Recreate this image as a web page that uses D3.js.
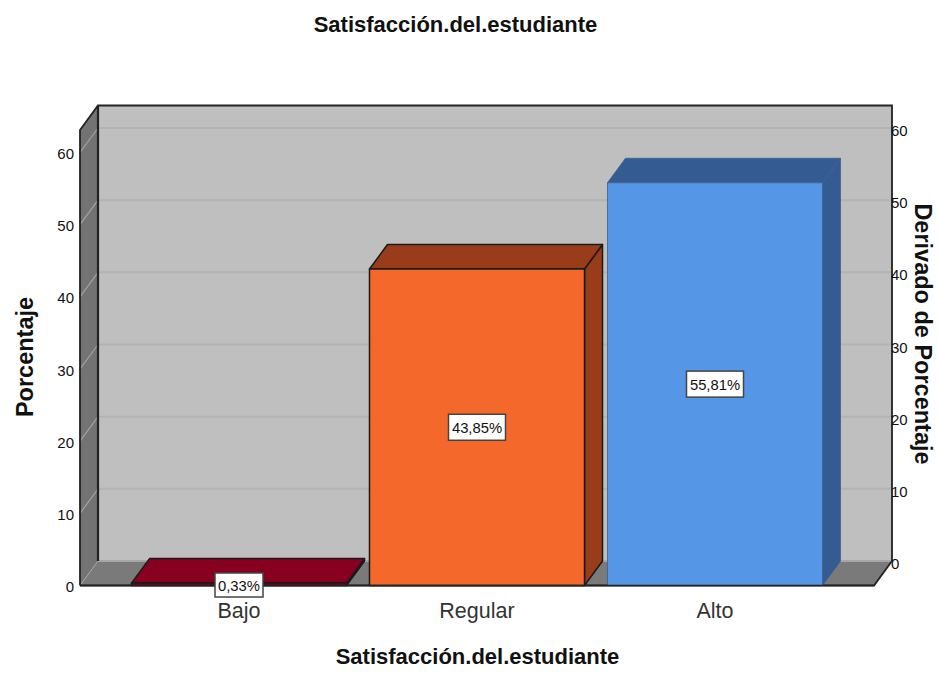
<!DOCTYPE html>
<html><head><meta charset="utf-8">
<script src="https://cdn.jsdelivr.net/npm/d3@7/dist/d3.min.js"></script>
<style>html,body{margin:0;padding:0;background:#fff}svg{display:block}text{font-family:"Liberation Sans",Arial,sans-serif;fill:#111}</style>
</head><body><svg id="c" width="938" height="673"></svg>
<script>
const categories=["Bajo","Regular","Alto"];
const percentValues=[0.33,43.85,55.81];
const percentLabels=["0,33%","43,85%","55,81%"];
const barColors=["#87001f","#f4692b","#5596e6"];
const sideColors=["#87001f","#983c19","#345c92"];
const yTicks=[0,10,20,30,40,50,60];
const chartTitle="Satisfacción.del.estudiante";
const xTitle="Satisfacción.del.estudiante";
const yTitle="Porcentaje";
const y2Title="Derivado de Porcentaje";

const svg=d3.select("#c");
const dx=18,dy=-24.5;
const y=d3.scaleLinear().domain([0,60]).range([585.5,152.5]);
const yMax=y.invert(130);
const x=d3.scaleBand().domain(categories).range([120,834]).paddingInner(0.0966).paddingOuter(0.0483);
const L=80,R=874,B=y(0),T=y(yMax);
const poly=(pts,fill,stroke,sw)=>svg.append("polygon").attr("points",pts.map(p=>p.join(",")).join(" ")).attr("fill",fill).attr("stroke",stroke||"none").attr("stroke-width",sw||0).attr("stroke-linejoin","round");

poly([[L+dx,T+dy],[R+dx,T+dy],[R+dx,B+dy],[L+dx,B+dy]],"#bfbfbf");
poly([[L,T],[L+dx,T+dy],[L+dx,B+dy],[L,B]],"#737373");
poly([[L,B],[L+dx,B+dy],[R+dx,B+dy],[R,B]],"#7a7a7a");
yTicks.slice(1).forEach(t=>{
  svg.append("path").attr("d",`M${L},${y(t)}L${L+dx},${y(t)+dy}`).attr("stroke","#a3a3a3").attr("stroke-width",1.2).attr("fill","none");
  svg.append("path").attr("d",`M${L+dx},${y(t)+dy}L${R+dx},${y(t)+dy}`).attr("stroke","#b3b3b3").attr("stroke-width",2).attr("fill","none");
});
svg.append("path").attr("d",`M${L+dx},${B+dy}L${R+dx},${B+dy}`).attr("stroke","#a6a6a6").attr("stroke-width",2).attr("fill","none");
svg.append("path").attr("d",`M${L},${B}L${L+dx},${B+dy}`).attr("stroke","#a3a3a3").attr("stroke-width",1);
svg.append("path").attr("d",`M${L},${B}L${L},${T}L${L+dx},${T+dy}L${R+dx},${T+dy}L${R+dx},${B+dy}L${R},${B}L${L},${B}`).attr("fill","none").attr("stroke","#222").attr("stroke-width",1.8);
svg.append("path").attr("d",`M${L+dx},${T+dy}L${L+dx},${B+dy}`).attr("fill","none").attr("stroke","#222").attr("stroke-width",2.2);

categories.forEach((c,i)=>{
  const x0=x(c),x1=x0+x.bandwidth(),yt=y(percentValues[i]);
  const sc=i===2?"#3e5f8c":"#1a1a1a",sw=i===2?0.8:1.5;
  poly([[x1,yt],[x1+dx,yt+dy],[x1+dx,B+dy],[x1,B]],i===0?"#111":sideColors[i],sc,sw);
  poly([[x0,yt],[x0+dx,yt+dy],[x1+dx,yt+dy],[x1,yt]],sideColors[i],sc,sw);
  poly([[x0,yt],[x1,yt],[x1,B],[x0,B]],barColors[i],sc,sw);
});
svg.append("path").attr("d",`M${L},${B}L${R},${B}`).attr("stroke","#222").attr("stroke-width",1.5);

yTicks.forEach(t=>{
  svg.append("text").attr("x",74).attr("y",y(t)+6.5).attr("text-anchor","end").attr("font-size",15).text(t);
  svg.append("text").attr("x",891).attr("y",y(t)+dy+8).attr("text-anchor","start").attr("font-size",15).text(t);
});
categories.forEach(c=>{
  svg.append("text").attr("x",x(c)+x.bandwidth()/2).attr("y",618).attr("text-anchor","middle").attr("font-size",21.5).style("fill","#333").text(c);
});
const labelYs=[B-0.5,y(percentValues[1]/2),y(percentValues[2]/2)];
categories.forEach((c,i)=>{
  const cx=x(c)+x.bandwidth()/2,cy=labelYs[i],w=i===0?48:57,h=i===0?24:26;
  svg.append("rect").attr("x",cx-w/2).attr("y",cy-h/2).attr("width",w).attr("height",h).attr("fill","#fff").attr("stroke","#444").attr("stroke-width",1.5);
  svg.append("text").attr("x",cx).attr("y",cy+5.5).attr("text-anchor","middle").attr("font-size",14.8).text(percentLabels[i]);
});
svg.append("text").attr("x",455.5).attr("y",32).attr("text-anchor","middle").attr("font-size",22).attr("font-weight","bold").text(chartTitle);
svg.append("text").attr("x",477.5).attr("y",664).attr("text-anchor","middle").attr("font-size",22).attr("font-weight","bold").text(xTitle);
svg.append("text").attr("transform","translate(33,357) rotate(-90)").attr("text-anchor","middle").attr("font-size",23.5).attr("font-weight","bold").text(yTitle);
svg.append("text").attr("transform","translate(915,334) rotate(90)").attr("text-anchor","middle").attr("font-size",23.5).attr("font-weight","bold").text(y2Title);
</script></body></html>
